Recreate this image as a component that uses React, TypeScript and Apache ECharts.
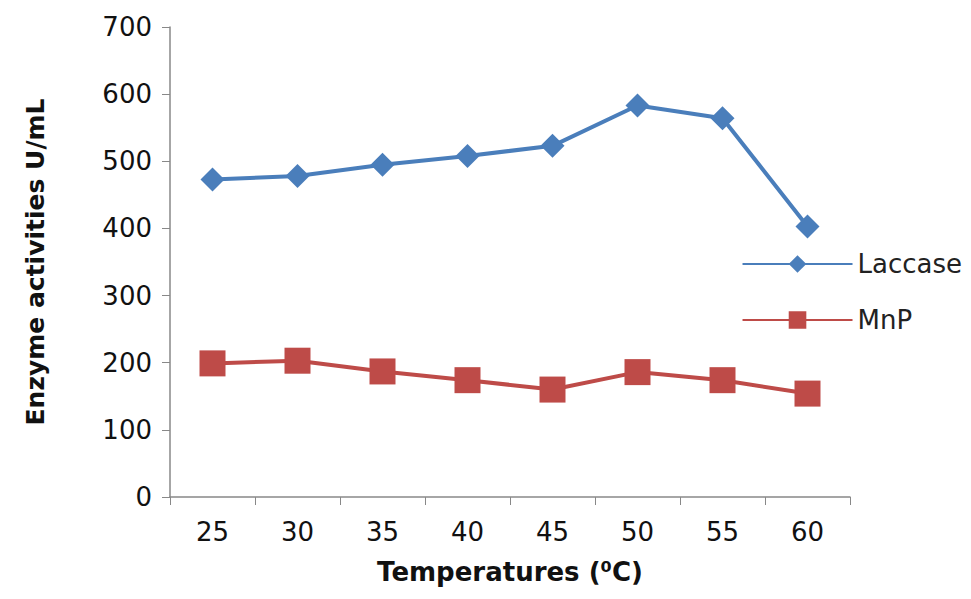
import * as echarts from "echarts"
import {useEffect, useRef} from "react"

const temperatures = ["25", "30", "35", "40", "45", "50", "55", "60"]
const laccase = [473, 478, 495, 508, 523, 583, 564, 403]
const mnp = [199, 203, 187, 174, 160, 186, 174, 154]
const yTicks = {min: 0, max: 700, interval: 100}

const font = "'DejaVu Sans', sans-serif"

const App: React.FC = () => {
    const ref = useRef<HTMLDivElement | null>(null)

    useEffect(() => {
        const chart = echarts.init(ref.current, undefined, {renderer: "svg"})
        chart.setOption({
            animation: false,
            grid: {left: 162, right: 113, top: 19, bottom: 94},
            legend: {
                orient: "vertical",
                right: -4,
                top: 238,
                itemGap: 30,
                itemWidth: 110,
                itemHeight: 22,
                textStyle: {fontSize: 26, color: "#222", fontFamily: font},
                data: ["Laccase", "MnP"]
            },
            xAxis: {
                type: "category",
                data: temperatures,
                boundaryGap: true,
                name: "Temperatures (⁰C)",
                nameLocation: "middle",
                nameGap: 62,
                nameTextStyle: {fontSize: 26, fontWeight: "bold", color: "#111", fontFamily: font},
                axisLine: {lineStyle: {color: "#888", width: 1.5}},
                axisTick: {show: true, length: 8, lineStyle: {color: "#888"}},
                axisLabel: {fontSize: 26, color: "#111", margin: 22, fontFamily: font}
            },
            yAxis: {
                type: "value",
                ...yTicks,
                name: "Enzyme activities U/mL",
                nameLocation: "middle",
                nameGap: 122,
                nameTextStyle: {fontSize: 25, fontWeight: "bold", color: "#111", fontFamily: font},
                splitLine: {show: false},
                axisLine: {show: true, lineStyle: {color: "#888", width: 1.5}},
                axisTick: {show: true, length: 8, lineStyle: {color: "#888"}},
                axisLabel: {fontSize: 26, color: "#111", margin: 18, fontFamily: font}
            },
            series: [
                {
                    name: "Laccase",
                    type: "line",
                    data: laccase,
                    symbol: "diamond",
                    symbolSize: 24,
                    lineStyle: {width: 4, color: "#4a7ebb"},
                    itemStyle: {color: "#4a7ebb"}
                },
                {
                    name: "MnP",
                    type: "line",
                    data: mnp,
                    symbol: "rect",
                    symbolSize: 26,
                    lineStyle: {width: 4, color: "#be4b48"},
                    itemStyle: {color: "#be4b48"}
                }
            ]
        })
        return () => chart.dispose()
    }, [])

    return <div ref={ref} style={{width: 955, height: 583}}></div>
}

export default App
